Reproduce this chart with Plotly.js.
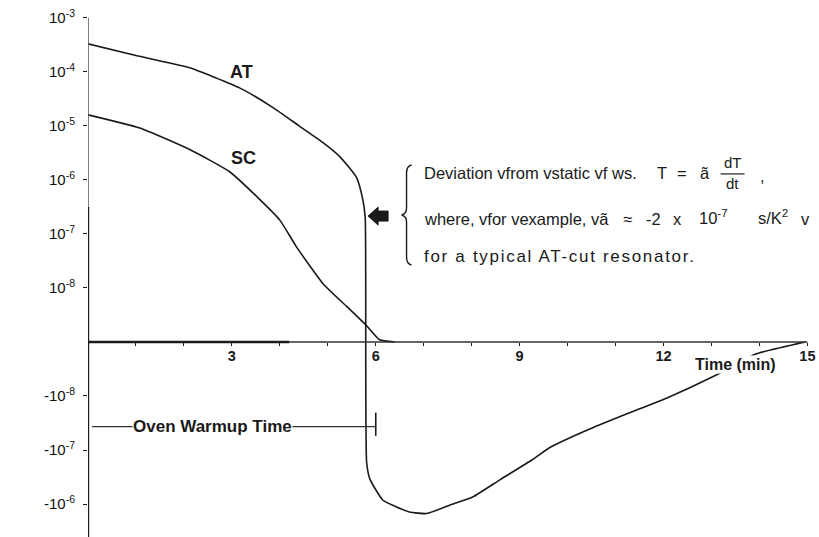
<!DOCTYPE html>
<html>
<head>
<meta charset="utf-8">
<script src="https://cdn.plot.ly/plotly-3.0.1.min.js"></script>
<style>
  html, body { margin: 0; padding: 0; background: #fff; }
  #chart { width: 819px; height: 537px; }
</style>
</head>
<body>
<div id="chart"></div>
<script>
// Warm-up frequency deviation of AT-cut and SC-cut resonators (time in minutes)
const timeAT = [0, 1.0, 2.1, 3.17, 3.85, 4.4, 4.9, 5.25, 5.6, 5.73, 5.78, 5.81, 5.88, 6.15, 6.4, 6.7, 7.06, 7.54, 8.02, 8.58, 9.27, 9.63, 10.4, 11.2, 12.06, 13.1, 13.9, 14.95];
const devAT  = [3.3e-4, 2.0e-4, 1.2e-4, 5.0e-5, 2.2e-5, 1.0e-5, 4.9e-6, 2.7e-6, 1.1e-6, 4.3e-7, 2.0e-7, -1.7e-7, -3.5e-7, -8.5e-7, -1.1e-6, -1.4e-6, -1.5e-6, -1.05e-6, -7.4e-7, -3.6e-7, -1.5e-7, -9.0e-8, -4.3e-8, -2.2e-8, -1.1e-8, -4.1e-9, -1.7e-9, 0];

const timeSC = [0, 1.08, 2.13, 2.96, 3.52, 4.0, 4.35, 4.9, 5.4, 5.81, 6.08, 6.4];
const devSC  = [1.6e-5, 9.1e-6, 3.6e-6, 1.4e-6, 4.9e-7, 1.8e-7, 5.7e-8, 1.2e-8, 4.5e-9, 2.0e-9, 1.1e-9, 0];

// Axis ticks
const yTickValues = [1e-3, 1e-4, 1e-5, 1e-6, 1e-7, 1e-8, -1e-8, -1e-7, -1e-6];
const yTickLabels = ['10<sup>-3</sup>', '10<sup>-4</sup>', '10<sup>-5</sup>', '10<sup>-6</sup>', '10<sup>-7</sup>', '10<sup>-8</sup>',
                     '-10<sup>-8</sup>', '-10<sup>-7</sup>', '-10<sup>-6</sup>'];
const xTickValues = [3, 6, 9, 12, 15];
const xTickLabels = ['3', '6', '9', '12', '15'];

// Symmetric log scale: one decade per unit, |v| <= 1e-9 collapses onto zero
const FLOOR_EXP = 9;
function symlog(v) {
  if (v === 0) return 0;
  const m = Math.log10(Math.abs(v)) + FLOOR_EXP;
  return Math.sign(v) * Math.max(0, m);
}

const yMin = -3.61, yMax = 6.2;
const FONT = 'Liberation Sans, Arial, sans-serif';
const ink = '#1a1a1a';

const traces = [
  { x: timeAT, y: devAT.map(symlog), mode: 'lines', line: { color: ink, width: 1.6, shape: 'spline', smoothing: 0.5 }, hoverinfo: 'skip' },
  { x: timeSC, y: devSC.map(symlog), mode: 'lines', line: { color: ink, width: 1.6, shape: 'spline', smoothing: 0.5 }, hoverinfo: 'skip' }
];

const oven = symlog(-3.7e-8);
const noteRow1 = 3.13, noteRow2 = 2.28, noteRow3 = 1.58;

function note(text, x, y, size, extra) {
  return Object.assign({ text: text, x: x, y: y, xref: 'x', yref: 'y', showarrow: false,
                         font: { size: size, color: ink } }, extra || {});
}

const layout = {
  width: 819, height: 537,
  margin: { l: 88, r: 2, t: 7, b: 0 },
  paper_bgcolor: '#fff', plot_bgcolor: '#fff',
  showlegend: false,
  font: { family: FONT, color: ink },
  xaxis: {
    range: [0, 15.2], anchor: 'free', position: (0 - yMin) / (yMax - yMin),
    showgrid: false, zeroline: false, showline: false,
    tickmode: 'array', tickvals: xTickValues, ticktext: xTickLabels,
    ticks: 'outside', ticklen: 3, tickwidth: 1, tickcolor: ink,
    minor: { tick0: 0, dtick: 1, ticks: 'outside', ticklen: 3, tickwidth: 1, tickcolor: ink, showgrid: false },
    tickfont: { size: 14.5, weight: 'bold', color: ink }, ticklabelstandoff: -2,
    automargin: false
  },
  yaxis: {
    range: [yMin, yMax],
    showgrid: false, zeroline: false, showline: false,
    tickmode: 'array', tickvals: yTickValues.map(symlog), ticktext: yTickLabels,
    ticks: 'outside', ticklen: 4, tickwidth: 1, tickcolor: ink,
    tickfont: { size: 15, color: '#111' }, ticklabelstandoff: 5,
    automargin: false
  },
  shapes: [
    // axes
    { type: 'line', xref: 'x', yref: 'y', x0: 0, x1: 0, y0: 6, y1: 2.5, line: { color: '#555', width: 1.5 } },
    { type: 'line', xref: 'x', yref: 'y', x0: 0, x1: 0, y0: 2.5, y1: yMin, line: { color: ink, width: 2.4 } },
    { type: 'line', xref: 'x', yref: 'y', x0: 0, x1: 4.2, y0: 0, y1: 0, line: { color: ink, width: 2.4 } },
    { type: 'line', xref: 'x', yref: 'y', x0: 4.2, x1: 15, y0: 0, y1: 0, line: { color: '#333', width: 1.4 } },
    // oven warm-up marker
    { type: 'line', xref: 'x', yref: 'y', x0: 0.08, x1: 6.0, y0: oven, y1: oven, line: { color: '#333', width: 1.3 } },
    { type: 'line', xref: 'x', yref: 'y', x0: 6.0, x1: 6.0, y0: oven + 0.26, y1: oven - 0.17, line: { color: ink, width: 1.6 } },
    // pointer arrow
    { type: 'path', xref: 'x', yref: 'y', xsizemode: 'pixel', ysizemode: 'pixel',
      xanchor: 5.84, yanchor: 2.33,
      path: 'M 0 0 L 10 9 L 10 5 L 20 5 L 20 -5 L 10 -5 L 10 -9 Z',
      fillcolor: ink, line: { color: ink, width: 1 } },
    // brace
    { type: 'path', xref: 'x', yref: 'y', xsizemode: 'pixel', ysizemode: 'pixel',
      xanchor: 6.6, yanchor: 2.35,
      path: 'M 7 50 Q 2 49 2 42 L 2 7 Q 2 1 -3 0 Q 2 -1 2 -7 L 2 -42 Q 2 -49 7 -50',
      line: { color: ink, width: 1.4 } },
    // fraction bar of dT/dt
    { type: 'path', xref: 'x', yref: 'y', xsizemode: 'pixel', ysizemode: 'pixel',
      xanchor: 13.44, yanchor: 3.11, path: 'M -12 0 L 12 0', line: { color: ink, width: 1.2 } }
  ],
  annotations: [
    note('<b>Fractional Frequency Deviation From Turnover Frequency</b>', -1.46, 1.59, 14.5, { textangle: -90 }),
    note('<b>AT</b>', 3.2, symlog(1.0e-4), 18),
    note('<b>SC</b>', 3.24, symlog(2.5e-6), 18),
    note('<b>Time (min)</b>', 13.5, -0.42, 16, { bgcolor: '#fff', borderpad: 0 }),
    note('<b>Oven Warmup Time</b>', 2.6, oven, 17, { bgcolor: '#fff', borderpad: 0 }),
    // note beside the brace
    note('Deviation vfrom vstatic vf ws.', 6.96, noteRow1, 16.5, { xanchor: 'left', align: 'left' }),
    note('T', 11.96, noteRow1, 16.5),
    note('=', 12.375, noteRow1, 16.5),
    note('ã', 12.875, noteRow1, 16.5),
    note('dT', 13.44, 3.33, 15),
    note('dt', 13.44, 2.93, 15),
    note(',', 14.06, 3.08, 16.5),
    note('where, vfor vexample, vã', 6.96, noteRow2, 16.5, { xanchor: 'left', align: 'left' }),
    note('≈', 11.25, noteRow2, 16.5),
    note('-2', 11.79, noteRow2, 16.5),
    note('x', 12.29, noteRow2, 16.5),
    note('10<sup>-7</sup>', 13.04, noteRow2 + 0.04, 16.5),
    note('s/K<sup>2</sup>', 14.29, noteRow2 + 0.04, 16.5),
    note('v', 14.96, noteRow2, 16.5),
    note('for a typical AT-cut resonator.', 6.96, noteRow3, 17, { xanchor: 'left', align: 'left' })
  ]
};

Plotly.newPlot('chart', traces, layout, { displayModeBar: false, staticPlot: true }).then(function (gd) {
  // the last caption line is set with wider tracking
  gd.querySelectorAll('.annotation-text').forEach(function (t) {
    if (t.textContent.indexOf('for a typical') === 0) t.style.letterSpacing = '1.7px';
  });
});
</script>
</body>
</html>
